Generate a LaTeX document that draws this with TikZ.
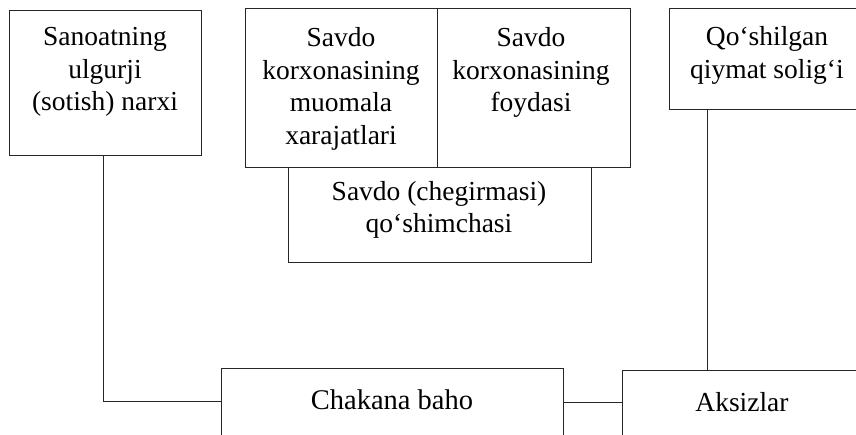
\documentclass[tikz,border=0pt]{standalone}
\usepackage{fontspec}
\setmainfont{Liberation Serif}
\begin{document}
\begin{tikzpicture}[x=1pt,y=-1pt,
  box/.style={draw=black!85, line width=1pt, rectangle, inner sep=0pt, outer sep=0pt, anchor=north west},
  txt/.style={inner sep=0pt, align=center, font=\fontsize{27.5}{32.5}\selectfont},
  link/.style={draw=black!85, line width=1pt}]
\useasboundingbox (0,0) rectangle (856,434);
\clip (0,0) rectangle (856,434);

% boxes
\node[box, minimum width=192pt, minimum height=145pt] (san) at (9,10) {};
\node[box, minimum width=192pt, minimum height=159pt] (muo) at (245,8) {};
\node[box, minimum width=193pt, minimum height=159pt] (foy) at (437,8) {};
\node[box, minimum width=303pt, minimum height=95pt]  (qos) at (288,167) {};
\node[box, minimum width=196pt, minimum height=101pt] (qqs) at (669,8) {};
\node[box, minimum width=342pt, minimum height=110pt] (cha) at (221,368) {};
\node[box, minimum width=240pt, minimum height=110pt] (aks) at (622,370) {};

% labels (a 19pt strut fixes the first line's height)
\node[txt, anchor=north] (sanT) at (105,26.5) {\rule{0pt}{19pt}Sanoatning\\ulgurji\\(sotish) narxi};
\node[txt, anchor=north] (muoT) at (341,27.5) {\rule{0pt}{19pt}Savdo\\korxonasining\\muomala\\xarajatlari};
\node[txt, anchor=north] (foyT) at (531,27.5) {\rule{0pt}{19pt}Savdo\\korxonasining\\foydasi};
\node[txt, anchor=north] (qosT) at (439,181) {\rule{0pt}{19pt}Savdo (chegirmasi)\\qo‘shimchasi};
\node[txt, anchor=north] (qqsT) at (767,26.5) {\rule{0pt}{19pt}Qo‘shilgan\\qiymat solig‘i};
\node[txt, anchor=base, font=\fontsize{28.5}{33}\selectfont] (chaT) at (392,409) {Chakana baho};
\node[txt, anchor=base] (aksT) at (742,411) {Aksizlar};

% connectors
\draw[link] ([xshift=94pt]san.south west) |- ([yshift=-33pt]cha.north west);
\draw[link] ([yshift=-34pt]cha.north east) -- ([yshift=-32pt]aks.north west);
\draw[link] ([xshift=38pt]qqs.south west) -- ([xshift=85pt]aks.north west);
\end{tikzpicture}
\end{document}
